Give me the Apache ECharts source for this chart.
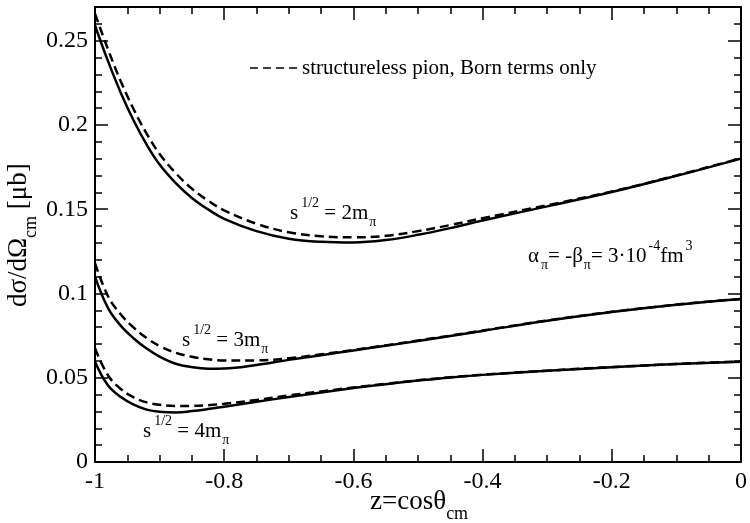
<!DOCTYPE html>
<html>
<head>
<meta charset="utf-8">
<script src="https://cdn.jsdelivr.net/npm/echarts@6/dist/echarts.min.js"></script>
<style>
  html, body { margin: 0; padding: 0; background: #fff; }
  #chart { width: 750px; height: 523px; }
</style>
</head>
<body>
<div id="chart"></div>
<script>
// z = cos(theta_cm) grid
var zVals = [ -1, -0.98, -0.96, -0.94, -0.92, -0.9, -0.875, -0.85, -0.825, -0.8, -0.75, -0.7, -0.65,
              -0.6, -0.55, -0.5, -0.45, -0.4, -0.3, -0.2, -0.1, 0 ];

// s^1/2 = 2 m_pi : full result / structureless pion (Born terms only)
var full2m = [ 0.259, 0.238, 0.219, 0.2025, 0.1883, 0.1765, 0.1655, 0.1567, 0.1499, 0.1443, 0.1370, 0.1325, 0.1307,
               0.1303, 0.1317, 0.1348, 0.1388, 0.1433, 0.1517, 0.1602, 0.1698, 0.180 ];
var born2m = [ 0.266, 0.245, 0.2258, 0.2092, 0.1948, 0.1828, 0.1714, 0.1622, 0.1551, 0.1493, 0.1414, 0.1363, 0.1340,
               0.1333, 0.1342, 0.1370, 0.1406, 0.1447, 0.1524, 0.1605, 0.1700, 0.1803 ];
// s^1/2 = 3 m_pi
var full3m = [ 0.110, 0.0915, 0.0808, 0.0733, 0.0673, 0.0625, 0.0583, 0.0563, 0.0554, 0.0555, 0.0576, 0.0606, 0.0634,
               0.0662, 0.0690, 0.0718, 0.0748, 0.0778, 0.0838, 0.0890, 0.0933, 0.0967 ];
var born3m = [ 0.118, 0.0985, 0.0875, 0.0797, 0.0735, 0.0688, 0.0648, 0.0624, 0.0610, 0.0603, 0.0603, 0.0616, 0.0639,
               0.0665, 0.0692, 0.0721, 0.0750, 0.0780, 0.0840, 0.0891, 0.0934, 0.0968 ];
// s^1/2 = 4 m_pi
var full4m = [ 0.0595, 0.0455, 0.0385, 0.0340, 0.0311, 0.0298, 0.0294, 0.0302, 0.0314, 0.0328, 0.0357, 0.0386, 0.0413,
               0.0439, 0.0462, 0.0483, 0.0502, 0.0517, 0.0541, 0.0562, 0.0581, 0.0595 ];
var born4m = [ 0.0675, 0.0515, 0.0433, 0.0383, 0.0354, 0.0340, 0.0333, 0.0333, 0.0337, 0.0345, 0.0368, 0.0395, 0.0419,
               0.0442, 0.0464, 0.0485, 0.0503, 0.0518, 0.0542, 0.0563, 0.0582, 0.0596 ];

var FONT = "'Liberation Serif', 'Times New Roman', serif";
var measureCtx = document.createElement( 'canvas' ).getContext( '2d' );

function textWidth( str, size ) {
  measureCtx.font = size + 'px ' + FONT;
  return measureCtx.measureText( str ).width;
}

// text with sub/superscripts, laid out piece by piece from a baseline
function mathText( parts, x, y, rotation, big ) {
  var cx = 0, children = [];
  var main = big || 21, small = Math.round( main * 0.66 );
  parts.forEach( function( p ) {
    var size = p.sub || p.sup ? small : main;
    var shift = p.sub ? main * 0.33 : ( p.sup ? -main * 0.57 : 0 );
    children.push( {
      type: 'text',
      x: cx + ( p.dx || 0 ),
      y: shift - 0.33 * size,
      style: {
        text: p.t,
        fontSize: size,
        fontFamily: FONT,
        fill: '#000',
        align: 'left',
        verticalAlign: 'middle'
      }
    } );
    cx += textWidth( p.t, size ) + ( p.dx || 0 );
  } );
  return { type: 'group', x: x, y: y, rotation: rotation || 0, children: children };
}

function toData( ys ) {
  return zVals.map( function( z, i ) { return [ z, ys[ i ] ]; } );
}

function curve( name, ys, dashed ) {
  return {
    name: name,
    type: 'line',
    data: toData( ys ),
    smooth: 0.4,
    showSymbol: false,
    silent: true,
    lineStyle: { color: '#000', width: 2.5, type: dashed ? [ 9, 5 ] : 'solid' }
  };
}

function xAxisDef( pos, labels ) {
  return {
    type: 'value', min: -1, max: 0, interval: 0.2, position: pos,
    axisLine: { show: true, onZero: false, lineStyle: { color: '#000', width: 2 } },
    axisTick: { inside: true, length: 13, lineStyle: { color: '#000', width: 1.5 } },
    minorTick: { show: true, splitNumber: 4, length: 7, lineStyle: { color: '#000', width: 1.5 } },
    splitLine: { show: false },
    axisLabel: {
      show: labels, margin: 8, color: '#000', fontSize: 24, fontFamily: FONT,
      formatter: function( v ) { return String( +v.toFixed( 2 ) ); }
    }
  };
}

function yAxisDef( pos, interval, tickLen, labels, line ) {
  return {
    type: 'value', min: 0, max: 0.27, interval: interval, position: pos,
    axisLine: { show: line, onZero: false, lineStyle: { color: '#000', width: 2 } },
    axisTick: { inside: true, length: tickLen, lineStyle: { color: '#000', width: 1.5 } },
    splitLine: { show: false },
    axisLabel: {
      show: labels, margin: 7, color: '#000', fontSize: 24, fontFamily: FONT, showMaxLabel: false,
      formatter: function( v ) { return String( +v.toFixed( 2 ) ); }
    }
  };
}

var chart = echarts.init( document.getElementById( 'chart' ), null, { renderer: 'canvas' } );

chart.setOption( {
  animation: false,
  backgroundColor: '#fff',
  grid: { left: 95, right: 6, top: 7, bottom: 61 },
  xAxis: [ xAxisDef( 'bottom', true ), xAxisDef( 'top', false ) ],
  yAxis: [
    yAxisDef( 'left', 0.05, 13, true, true ),
    yAxisDef( 'left', 0.01, 7, false, false ),
    yAxisDef( 'right', 0.05, 13, false, true ),
    yAxisDef( 'right', 0.01, 7, false, false )
  ],
  series: [
    curve( 'full 2m', full2m, false ),
    curve( 'born 2m', born2m, true ),
    curve( 'full 3m', full3m, false ),
    curve( 'born 3m', born3m, true ),
    curve( 'full 4m', full4m, false ),
    curve( 'born 4m', born4m, true )
  ],
  graphic: [
    // legend sample
    {
      type: 'line',
      shape: { x1: 250, y1: 68, x2: 297, y2: 68 },
      style: { stroke: '#000', lineWidth: 1.5, lineDash: [ 8, 5 ] }
    },
    mathText( [ { t: 'structureless pion, Born terms only' } ], 302, 75 ),
    mathText( [ { t: 's' }, { t: '1/2', sup: true, dx: 3 }, { t: ' = 2m' }, { t: 'π', sub: true, dx: 1 } ], 290, 220 ),
    mathText( [ { t: 's' }, { t: '1/2', sup: true, dx: 3 }, { t: ' = 3m' }, { t: 'π', sub: true, dx: 1 } ], 182, 347 ),
    mathText( [ { t: 's' }, { t: '1/2', sup: true, dx: 3 }, { t: ' = 4m' }, { t: 'π', sub: true, dx: 1 } ], 143, 438 ),
    mathText( [ { t: 'α' }, { t: 'π', sub: true, dx: 2 }, { t: '= -β' }, { t: 'π', sub: true, dx: 1 },
                { t: '= 3·10' }, { t: '-4', sup: true, dx: 2 }, { t: 'fm' }, { t: '3', sup: true, dx: 2 } ], 528, 263 ),
    // axis titles
    mathText( [ { t: 'z=cosθ' }, { t: 'cm', sub: true } ], 370, 511, 0, 27 ),
    mathText( [ { t: 'dσ/dΩ' }, { t: 'cm', sub: true }, { t: ' [μb]' } ], 28, 307, Math.PI / 2, 27 )
  ]
} );
</script>
</body>
</html>
